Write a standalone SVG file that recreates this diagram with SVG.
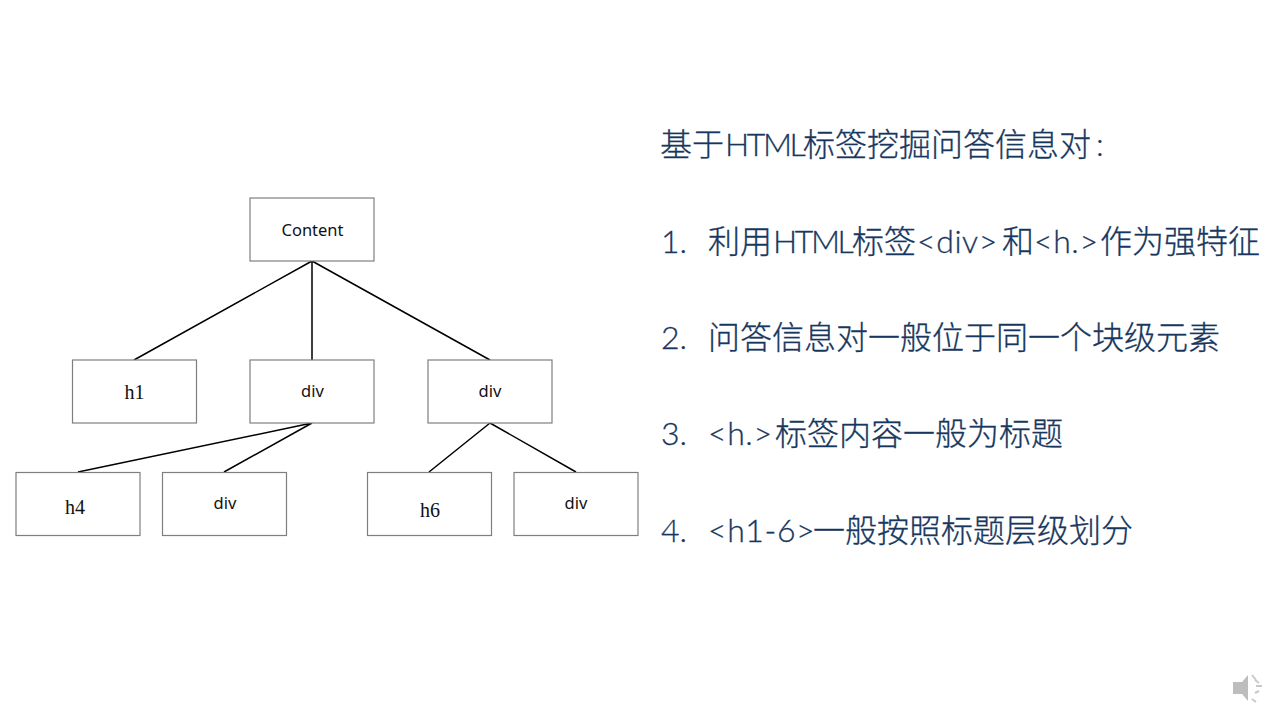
<svg xmlns="http://www.w3.org/2000/svg" width="1280" height="720" viewBox="0 0 1280 720">
<style>
.b{fill:#fff;stroke:#7f7f7f;stroke-width:1.2}
.c{stroke:#000;stroke-width:1.5;fill:none}
.s{font-family:"Noto Sans","Liberation Sans",sans-serif;font-size:16.5px;fill:#111;text-anchor:middle}
.f{font-family:"Liberation Serif",serif;font-size:20px;fill:#111;text-anchor:middle}
.t{font-family:"Lato","Noto Sans CJK SC",sans-serif;font-size:32px;fill:#17375e;stroke:#17375e;stroke-width:.3;font-weight:300}
.t2{font-family:"Noto Sans CJK SC",sans-serif;font-weight:300}
.n{letter-spacing:-2.4px}
.m{letter-spacing:.6px}
</style>
<rect width="1280" height="720" fill="#fff"/>
<g id="connectors">
<path class="c" d="M312 261L134 360M312 261V360M312 261L490 360M312 423L78 472M312 423L224 472M490 423L429 472M490 423L576 472"/>
</g>
<g id="n-content"><rect class="b" x="250" y="198" width="124" height="63"/><text class="s" x="312.500" y="236">Content</text></g>
<g id="n-h1"><rect class="b" x="72.500" y="360" width="124" height="63"/><text class="f" x="134.500" y="399">h1</text></g>
<g id="n-div1"><rect class="b" x="250" y="360" width="124" height="63"/><text class="s" x="312.500" y="397">div</text></g>
<g id="n-div2"><rect class="b" x="428" y="360" width="124" height="63"/><text class="s" x="490" y="397">div</text></g>
<g id="n-h4"><rect class="b" x="16" y="472.500" width="124" height="63"/><text class="f" x="75" y="514">h4</text></g>
<g id="n-div3"><rect class="b" x="162.500" y="472.500" width="124" height="63"/><text class="s" x="225" y="509">div</text></g>
<g id="n-h6"><rect class="b" x="367.500" y="472.500" width="124" height="63"/><text class="f" x="430" y="517">h6</text></g>
<g id="n-div4"><rect class="b" x="514" y="472.500" width="124" height="63"/><text class="s" x="576" y="509">div</text></g>
<g id="text">
<text class="t" y="156"><tspan class="t2" x="660">基于</tspan><tspan class="n" x="725">HTML</tspan><tspan class="t2" x="803">标签挖掘问答信息对</tspan><tspan x="1096">:</tspan></text>
<text class="t" y="253"><tspan x="661">1.</tspan><tspan class="t2" x="708">利用</tspan><tspan class="n" x="773">HTML</tspan><tspan class="t2" x="852">标签</tspan><tspan class="m" x="917">&lt;div&gt;</tspan><tspan class="t2" x="1002">和</tspan><tspan class="m" x="1034">&lt;h.&gt;</tspan><tspan class="t2" x="1100">作为强特征</tspan></text>
<text class="t" y="349"><tspan x="661">2.</tspan><tspan class="t2" x="708">问答信息对一般位于同一个块级元素</tspan></text>
<text class="t" y="445"><tspan x="661">3.</tspan><tspan class="m" x="708">&lt;h.&gt;</tspan><tspan class="t2" x="775">标签内容一般为标题</tspan></text>
<text class="t" y="542"><tspan x="661">4.</tspan><tspan class="m" x="708">&lt;h1-6&gt;</tspan><tspan class="t2" x="813">一般按照标题层级划分</tspan></text>
</g>
<g id="speaker">
<path d="M1233 682H1242L1248 675V701L1242 694H1233Z" fill="#bdbdbd"/>
<path d="M1252 675L1256 680M1255 680L1259 683M1256 686H1262M1255 693L1259 691M1252 699L1256 702" stroke="#c8c8c8" stroke-width="2" fill="none"/>
</g>
</svg>
